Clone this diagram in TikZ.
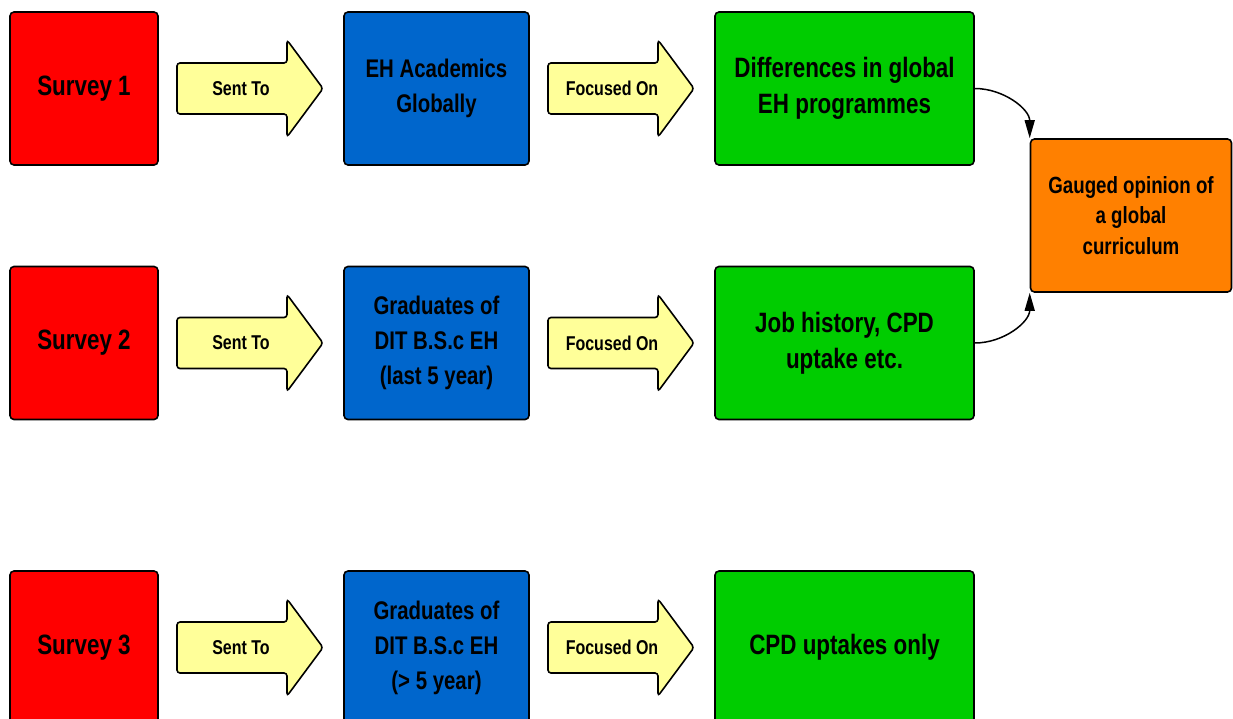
\documentclass[tikz,border=0pt]{standalone}
\usepackage{fontspec}
\setmainfont{Liberation Sans}[FakeStretch=0.8]
\usepackage{tikz}
\usetikzlibrary{arrows.meta}

\definecolor{surveyred}{RGB}{255,0,0}
\definecolor{groupblue}{RGB}{0,102,204}
\definecolor{topicgreen}{RGB}{0,204,0}
\definecolor{resultorange}{RGB}{255,128,0}
\definecolor{pointeryellow}{RGB}{255,255,153}

% fat yellow arrow with its caption, #2/#3 = left end of the shaft
\newcommand{\pointer}[4]{%
  \draw[pointer] (#2,#3) ++(0,25.5) -- ++(110,0) -- ++(0,23) -- ++(36,-48.5)
    -- ++(-36,-48.5) -- ++(0,23) -- ++(-110,0) -- cycle;
  \node (#1) [caption] at (#2+64,#3) {#4};
}

\begin{document}
\begin{tikzpicture}[
		x=1pt, y=1pt,
		card/.style={rectangle, draw, line width=1.6pt, rounded corners=4pt,
			minimum height=153, align=center, font=\bfseries},
		survey/.style={card, fill=surveyred, minimum width=148,
			font=\fontsize{28}{36}\selectfont\bfseries},
		group/.style={card, fill=groupblue, minimum width=185,
			font=\fontsize{25.5}{35}\selectfont\bfseries},
		topic/.style={card, fill=topicgreen, minimum width=259,
			font=\fontsize{28}{36}\selectfont\bfseries},
		result/.style={card, fill=resultorange, minimum width=201,
			font=\fontsize{23.4}{30.5}\selectfont\bfseries},
		pointer/.style={draw, line width=1.6pt, fill=pointeryellow, rounded corners=3pt},
		caption/.style={font=\fontsize{20}{24}\selectfont\bfseries},
		link/.style={line width=1.5pt, -{Triangle[length=18pt,width=10pt]}}
	]
  \useasboundingbox (0,0) rectangle (1233,-718);

  \node (s1) [survey] at (84,-88.5) {Survey 1};
  \node (s2) [survey] at (84,-343) {Survey 2};
  \node (s3) [survey] at (84,-647.5) {Survey 3};

  \pointer{sent1}{177}{-88.5}{Sent To}
  \pointer{sent2}{177}{-343}{Sent To}
  \pointer{sent3}{177}{-647.5}{Sent To}

  \node (g1) [group] at (436.5,-88.5) {EH Academics\\Globally};
  \node (g2) [group] at (436.5,-343) {Graduates of\\DIT B.S.c EH\\(last 5 year)};
  \node (g3) [group] at (436.5,-647.5) {Graduates of\\DIT B.S.c EH\\(> 5 year)};

  \pointer{focus1}{548}{-88.5}{Focused On}
  \pointer{focus2}{548}{-343}{Focused On}
  \pointer{focus3}{548}{-647.5}{Focused On}

  \node (t1) [topic] at (844.5,-88.5) {Differences in global\\EH programmes};
  \node (t2) [topic] at (844.5,-343) {Job history, CPD\\uptake etc.};
  \node (t3) [topic] at (844.5,-647.5) {CPD uptakes only};

  \node (gauge) [result] at (1131,-215.5) {Gauged opinion of\\a global\\curriculum};

  \draw[link] (t1.east) to[out=0, in=90] (gauge.north west);
  \draw[link] (t2.east) to[out=0, in=-90] (gauge.south west);
\end{tikzpicture}
\end{document}
